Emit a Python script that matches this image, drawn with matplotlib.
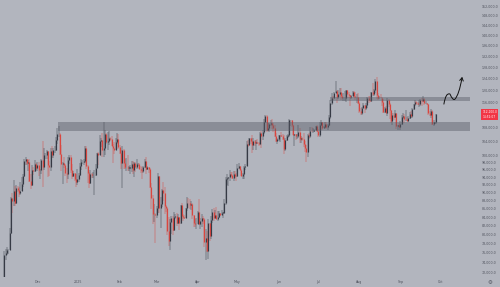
import numpy as np
import pandas as pd
import matplotlib
matplotlib.use("Agg")
import matplotlib.pyplot as plt
import matplotlib.transforms as mtransforms
from matplotlib.path import Path
from matplotlib.patches import FancyArrowPatch
from matplotlib.ticker import FixedLocator, NullLocator, FuncFormatter

# ---------------- data (BTC/USD daily, thousands of USD) ----------------
start_date = "2024-11-05"
first_open = 67.8

close_nov = [69.4, 75.6, 75.9, 76.5, 76.7, 80.4, 88.7, 87.9, 90.5, 87.4, 91.1, 90.6, 89.8, 90.5, 92.3, 94.3, 98.3, 98.9, 97.7, 98.0, 93.0, 91.9, 95.9, 95.6, 97.5, 96.4]
high_nov = [70.6, 76.4, 76.9, 77.2, 76.9, 81.5, 89.0, 89.9, 93.3, 91.8, 91.9, 91.8, 91.5, 92.6, 94.0, 94.9, 98.9, 99.6, 99.0, 98.7, 98.9, 94.8, 97.2, 96.6, 98.7, 97.7]
low_nov = [67.5, 69.3, 74.5, 75.6, 75.8, 76.5, 80.2, 85.1, 86.6, 86.7, 87.1, 90.1, 88.8, 89.4, 90.4, 91.5, 94.1, 97.2, 97.2, 95.7, 92.6, 90.8, 91.8, 94.6, 95.4, 96.0]

close_dec = [97.2, 95.8, 96.0, 98.6, 96.6, 99.9, 99.9, 101.2, 97.3, 96.6, 101.1, 100.0, 101.4, 101.4, 104.3, 106.1, 106.1, 100.2, 97.5, 97.8, 97.3, 95.2, 94.9, 98.7, 99.4, 95.8, 94.2, 95.2, 93.6, 92.8, 93.4]
high_dec = [98.0, 98.2, 96.3, 99.0, 104.0, 101.9, 100.5, 101.4, 101.2, 98.3, 101.9, 102.5, 101.9, 102.7, 105.2, 107.8, 108.4, 106.5, 102.8, 98.1, 99.5, 97.4, 96.4, 99.5, 99.9, 99.9, 97.5, 95.5, 95.2, 94.9, 96.2]
low_dec = [95.7, 94.4, 93.6, 94.7, 91.3, 95.9, 99.0, 98.8, 94.1, 94.3, 95.7, 99.3, 99.2, 100.6, 101.2, 103.3, 105.3, 100.0, 95.6, 92.2, 96.4, 94.2, 92.4, 93.4, 97.6, 95.2, 93.5, 94.0, 93.0, 91.3, 92.0]

close_jan = [94.6, 96.9, 98.1, 98.2, 98.3, 102.1, 96.9, 95.0, 92.5, 94.7, 94.5, 94.5, 94.5, 96.5, 100.5, 99.9, 104.1, 104.4, 101.3, 102.0, 106.1, 103.7, 103.9, 104.8, 104.7, 102.6, 102.1, 101.3, 103.7, 104.7, 102.4]
high_jan = [95.0, 97.8, 98.9, 98.7, 98.8, 102.5, 102.7, 97.3, 95.4, 95.8, 95.0, 95.4, 95.9, 97.4, 100.7, 100.9, 105.9, 104.9, 106.3, 109.6, 107.2, 106.3, 106.8, 107.1, 105.3, 105.5, 103.2, 103.8, 104.8, 106.5, 106.0]
low_jan = [92.7, 94.4, 96.0, 97.5, 97.3, 97.9, 96.1, 92.5, 91.2, 92.2, 93.8, 93.7, 89.3, 94.3, 96.5, 97.3, 99.9, 102.3, 99.5, 99.6, 100.1, 103.3, 101.3, 102.8, 104.1, 102.5, 97.8, 100.3, 101.3, 103.3, 101.6]

close_feb = [100.6, 97.7, 101.4, 97.9, 96.6, 96.6, 96.5, 96.5, 96.5, 97.4, 95.8, 97.9, 96.6, 97.5, 97.6, 96.1, 95.8, 95.5, 96.6, 98.3, 96.1, 96.6, 96.3, 91.5, 88.7, 84.7, 84.7, 84.4]
high_feb = [102.8, 101.5, 102.5, 101.7, 99.0, 99.2, 100.1, 96.9, 97.3, 98.3, 98.4, 98.1, 98.0, 98.8, 97.9, 97.7, 97.0, 96.8, 96.9, 98.8, 99.5, 96.9, 96.7, 96.5, 92.5, 89.3, 87.1, 85.1]
low_feb = [100.3, 96.2, 91.2, 96.2, 96.2, 95.7, 95.7, 95.7, 94.7, 95.3, 94.9, 94.1, 95.3, 96.3, 97.1, 96.1, 95.2, 93.4, 95.0, 96.4, 94.8, 95.8, 95.2, 91.2, 86.0, 82.3, 82.8, 78.2]

close_mar = [86.1, 94.3, 86.1, 87.2, 90.6, 89.9, 86.7, 86.2, 80.7, 78.5, 82.9, 83.7, 81.0, 84.0, 84.3, 82.6, 84.0, 82.7, 86.8, 84.2, 84.0, 83.8, 86.1, 87.5, 87.4, 86.9, 87.2, 84.4, 82.6, 82.4, 82.5]
high_mar = [86.6, 95.0, 94.4, 88.9, 90.9, 92.8, 91.3, 86.9, 86.5, 84.0, 83.6, 84.3, 84.3, 85.3, 84.7, 85.1, 84.8, 84.0, 87.0, 87.4, 84.8, 84.5, 86.1, 88.8, 88.7, 88.3, 87.8, 87.5, 84.6, 83.5, 83.9]
low_mar = [83.8, 85.0, 85.1, 81.5, 86.4, 87.8, 84.7, 85.3, 80.0, 77.5, 76.6, 80.2, 79.9, 80.8, 83.6, 82.0, 82.4, 81.1, 82.5, 83.6, 83.2, 83.6, 83.8, 85.5, 86.3, 85.9, 85.8, 83.6, 81.6, 81.6, 81.3]

close_apr = [85.2, 82.5, 83.1, 83.8, 83.5, 78.4, 79.2, 76.3, 82.6, 79.6, 83.4, 85.3, 83.7, 84.5, 83.6, 84.0, 84.9, 84.5, 85.1, 85.1, 87.5, 93.4, 93.7, 93.9, 94.7, 94.6, 93.8, 94.9, 94.3, 94.2]
high_apr = [85.5, 88.5, 83.9, 84.7, 84.2, 83.8, 81.2, 80.8, 83.6, 82.7, 84.3, 85.9, 86.1, 85.8, 86.4, 85.5, 85.5, 85.1, 85.6, 85.3, 88.5, 93.9, 94.7, 94.0, 95.8, 95.3, 95.3, 95.6, 95.5, 95.2]
low_apr = [82.4, 82.3, 81.2, 81.7, 82.4, 77.2, 74.5, 76.2, 74.6, 78.5, 78.9, 82.7, 83.0, 83.7, 83.6, 83.1, 83.9, 84.3, 84.4, 83.9, 85.1, 87.0, 91.9, 91.7, 92.9, 93.9, 93.6, 92.9, 93.8, 92.9]

close_may = [96.5, 96.9, 95.9, 94.3, 94.7, 96.8, 97.0, 103.3, 103.0, 104.8, 104.1, 102.8, 104.1, 103.5, 103.8, 103.5, 103.1, 106.5, 105.6, 106.8, 109.7, 111.7, 107.3, 107.8, 109.0, 109.4, 108.9, 107.8, 105.6, 103.9, 104.6]
high_may = [97.4, 97.9, 96.9, 96.3, 95.2, 96.9, 97.6, 104.0, 104.4, 104.9, 105.0, 105.8, 104.9, 104.3, 104.2, 104.6, 103.7, 106.7, 107.1, 107.3, 110.8, 112.0, 111.8, 109.5, 109.3, 110.4, 110.7, 109.3, 108.9, 106.3, 104.9]
low_may = [94.1, 96.3, 95.8, 94.2, 93.5, 93.4, 95.8, 96.9, 102.3, 102.8, 103.2, 100.7, 101.4, 102.6, 101.4, 103.1, 102.6, 103.1, 102.0, 104.2, 106.1, 109.3, 106.8, 106.9, 106.6, 108.6, 107.5, 106.7, 105.3, 103.7, 103.1]

close_jun = [105.7, 105.8, 105.4, 104.7, 101.6, 104.4, 105.6, 105.7, 110.3, 110.3, 108.7, 105.9, 106.0, 105.4, 105.6, 106.8, 104.6, 104.9, 104.6, 103.3, 102.1, 100.9, 105.9, 105.4, 107.1, 106.9, 107.1, 107.4, 108.4, 107.1]
high_jun = [105.9, 105.9, 106.8, 106.0, 105.9, 105.0, 105.9, 106.0, 110.6, 110.4, 110.4, 108.8, 106.2, 106.2, 106.0, 108.9, 107.8, 105.6, 105.2, 106.5, 104.0, 103.0, 106.1, 106.3, 108.1, 108.3, 107.8, 107.6, 108.5, 108.8]
low_jun = [103.9, 103.7, 105.1, 104.2, 100.4, 101.1, 103.9, 104.9, 105.1, 108.4, 108.1, 105.7, 102.7, 104.3, 104.5, 104.9, 103.4, 103.5, 104.0, 102.3, 100.8, 98.2, 99.6, 104.6, 105.0, 106.7, 106.3, 106.8, 107.2, 106.8]

close_jul = [105.7, 108.8, 109.6, 108.0, 108.2, 109.2, 108.3, 108.9, 111.3, 115.9, 117.5, 117.4, 119.1, 119.8, 117.7, 118.7, 119.3, 117.9, 117.3, 117.4, 117.4, 119.9, 118.8, 118.4, 117.6, 117.9, 119.4, 118.0, 117.8, 117.8, 115.8]
high_jul = [107.5, 109.8, 110.5, 109.8, 108.5, 109.7, 109.7, 109.2, 111.9, 116.9, 118.9, 118.2, 119.5, 123.2, 119.9, 120.1, 120.9, 120.9, 118.6, 118.9, 119.7, 120.2, 120.1, 119.5, 118.5, 118.4, 119.8, 119.8, 119.3, 118.8, 118.9]
low_jul = [105.3, 105.1, 108.6, 107.3, 107.8, 107.8, 107.5, 107.4, 108.4, 110.6, 115.2, 116.9, 117.3, 118.9, 115.7, 117.0, 117.8, 116.8, 117.3, 116.5, 116.4, 116.1, 117.3, 117.5, 114.7, 117.2, 117.9, 117.4, 116.9, 115.8, 115.5]

close_aug = [113.3, 112.6, 114.2, 115.1, 114.1, 115.0, 117.5, 116.7, 116.5, 119.3, 118.7, 120.1, 123.3, 118.4, 117.4, 117.5, 117.4, 116.2, 112.9, 114.3, 112.5, 116.9, 115.4, 113.5, 110.1, 111.8, 111.3, 112.6, 108.4, 108.8, 108.2]
high_aug = [116.1, 114.0, 114.4, 115.7, 115.1, 115.8, 117.7, 117.9, 117.9, 119.3, 122.3, 120.3, 123.7, 124.5, 119.2, 117.9, 118.6, 117.6, 117.0, 114.6, 114.8, 117.4, 117.0, 115.6, 113.6, 112.4, 112.6, 113.5, 112.6, 108.9, 109.5]
low_aug = [112.7, 112.0, 112.0, 114.1, 112.6, 113.4, 114.3, 115.9, 116.3, 116.5, 118.1, 118.2, 118.9, 117.2, 116.8, 117.2, 117.3, 114.7, 112.7, 112.4, 112.6, 111.7, 114.6, 110.7, 109.3, 108.7, 110.4, 110.9, 107.5, 107.4, 108.1]

close_sep = [109.2, 111.2, 111.7, 110.7, 110.7, 110.2, 111.1, 112.1, 111.5, 113.9, 115.5, 116.1, 115.9, 115.3, 115.3, 116.8, 116.5, 117.0, 115.7, 115.7, 115.3, 112.7, 112.0, 113.3, 109.0, 109.6, 109.7, 112.1]
high_sep = [109.9, 111.8, 112.6, 112.2, 113.4, 111.3, 111.6, 112.9, 113.3, 114.3, 115.5, 116.8, 116.3, 116.1, 116.7, 117.0, 117.3, 117.9, 117.5, 116.3, 115.9, 115.4, 113.3, 113.9, 113.5, 110.3, 109.8, 112.3]
low_sep = [107.3, 108.7, 110.6, 109.3, 110.2, 110.0, 110.0, 110.6, 110.9, 110.9, 113.4, 114.8, 115.2, 115.1, 114.4, 114.8, 114.7, 116.3, 115.1, 115.5, 115.2, 111.9, 111.6, 111.1, 108.7, 108.6, 109.1, 109.2]

# horizontal zones (thousands USD) and the dates they start at
zone_low = (107.0, 109.8)
zone_low_start = "2024-12-17"
zone_high = (116.5, 117.6)
zone_high_start = "2025-07-10"

# y-axis labels (thousands USD)
ytick_values = [152, 148, 144, 140, 136, 132, 128, 124, 120, 116, 108, 104, 100,
                98, 96, 94, 92, 90, 88, 86, 84, 82, 80, 78, 76, 74, 72]
xtick_dates = ["2024-12-01", "2025-01-01", "2025-02-01", "2025-03-01", "2025-04-01", "2025-05-01",
               "2025-06-01", "2025-07-01", "2025-08-01", "2025-09-01", "2025-10-01"]
xtick_labels = ["Dec", "2025", "Feb", "Mar", "Apr", "May", "Jun", "Jul", "Aug", "Sep", "Oct"]
countdown_text = "14:52:07"

# ---------------- build ----------------
closes = np.array(close_nov + close_dec + close_jan + close_feb + close_mar + close_apr +
                  close_may + close_jun + close_jul + close_aug + close_sep)
highs = np.array(high_nov + high_dec + high_jan + high_feb + high_mar + high_apr +
                 high_may + high_jun + high_jul + high_aug + high_sep)
lows = np.array(low_nov + low_dec + low_jan + low_feb + low_mar + low_apr +
                low_may + low_jun + low_jul + low_aug + low_sep)
opens = np.concatenate([[first_open], closes[:-1]])
n = len(closes)
dates = pd.date_range(start_date, periods=n, freq="D")
t0 = pd.Timestamp(start_date)


def day_index(d):
    return (pd.Timestamp(d) - t0).days


x = np.arange(n)

BG = "#b2b5be"
UP = "#363a45"
DOWN = "#d9463f"
TXT = "#50535e"

fig = plt.figure(figsize=(5.0, 2.87), dpi=100, facecolor=BG)
ax = fig.add_axes([0.0, 10 / 287, 470 / 500, 277 / 287])
ax.set_facecolor(BG)

up = closes >= opens
cols = np.where(up, UP, DOWN)
ax.vlines(x, lows, highs, colors=cols, linewidth=0.35, zorder=2)
body_lo = np.minimum(opens, closes)
body_hi = np.maximum(opens, closes)
body_hi = np.where(body_hi - body_lo < 0.08, body_lo + 0.08, body_hi)
ax.vlines(x, body_lo, body_hi, colors=cols, linewidth=0.85, zorder=2)

xmin, xmax = -2.26, 352.5
ax.set_yscale("log")
ax.set_xlim(xmin, xmax)
ax.set_ylim(71.0, 154.6)

# zones
for (lo, hi), s in [(zone_low, zone_low_start), (zone_high, zone_high_start)]:
    ax.fill_between([day_index(s) - 0.5, xmax], lo, hi, color="#5a5d68",
                    alpha=0.45, linewidth=0, zorder=3)

# hand-drawn projection arrow (drawing, in date-index / price coordinates)
arrow_pts = [(332.8, 115.4), (334.3, 119.4), (337.4, 118.7), (339.6, 116.4),
             (341.1, 117.0), (344.2, 118.4), (346.6, 124.6)]
codes = [Path.MOVETO, Path.CURVE3, Path.CURVE3, Path.CURVE3, Path.CURVE3, Path.CURVE3, Path.CURVE3]
arr = FancyArrowPatch(path=Path(arrow_pts, codes), arrowstyle="->,head_length=2.2,head_width=1.3",
                      color="#111111", linewidth=0.7, zorder=5, shrinkA=0, shrinkB=0)
ax.add_patch(arr)

# axes styling
for sp in ax.spines.values():
    sp.set_visible(False)
ax.yaxis.tick_right()
ax.yaxis.set_major_locator(FixedLocator(ytick_values))
ax.yaxis.set_minor_locator(NullLocator())
ax.yaxis.set_major_formatter(FuncFormatter(lambda v, p: f"{v * 1000:,.1f}"))
ax.yaxis.set_minor_formatter(FuncFormatter(lambda v, p: ""))
ax.tick_params(axis="y", length=0, pad=8.6, labelsize=2.3, labelcolor=TXT)

ax.set_xticks([day_index(d) for d in xtick_dates])
ax.set_xticklabels(xtick_labels)
ax.tick_params(axis="x", length=0, pad=2.2, labelsize=2.3, labelcolor=TXT)

# last price label
last = closes[-1]
trans = mtransforms.blended_transform_factory(ax.transAxes, ax.transData)
ax.text(1.0 + 12.5 / 470, last, f"{last * 1000:,.1f}\n{countdown_text}", transform=trans,
        ha="left", va="center", fontsize=2.1, color="white", linespacing=1.1,
        clip_on=False, zorder=10,
        bbox=dict(boxstyle="square,pad=0.35", fc="#f23645", ec="none"))

# settings glyph in the corner
fig.text(490 / 500, 1 - 282 / 287, "\u2699", ha="center", va="center", fontsize=4, color=TXT)

fig.savefig("out.png", dpi=100, facecolor=BG)
